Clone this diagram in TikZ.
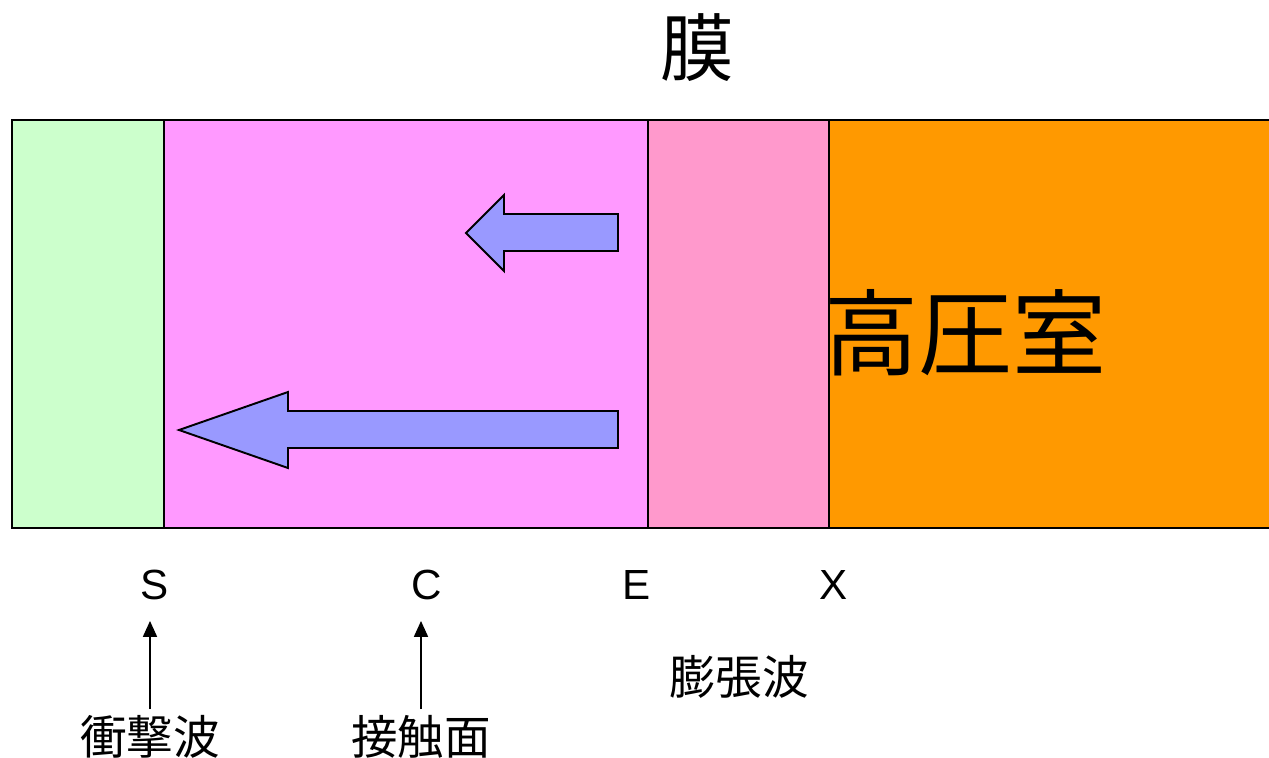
\documentclass[tikz,border=0pt]{standalone}
\usepackage{fontspec}
\setmainfont{Liberation Sans}
\newfontfamily\cjk{Noto Sans CJK JP}
\usetikzlibrary{arrows.meta}
\definecolor{cgreen}{HTML}{CCFFCC}
\definecolor{cmag}{HTML}{FF99FF}
\definecolor{cpink}{HTML}{FF99CC}
\definecolor{corange}{HTML}{FF9900}
\definecolor{carrow}{HTML}{9999FF}
\begin{document}
\begin{tikzpicture}[x=0.02cm,y=-0.02cm,
  region/.style={draw=black,line width=1.1pt},
  fatarrow/.style={draw=black,fill=carrow,line width=1.1pt,line join=miter},
  letter/.style={inner sep=0pt,font=\fontsize{24}{24}\selectfont},
  jlabel/.style={inner sep=0pt,font=\cjk\fontsize{26.5}{27}\selectfont},
  pointer/.style={-{Triangle[length=9pt,width=8pt]},line width=0.8pt}]
\useasboundingbox (0,0) rectangle (1269,758);
\fill[white] (0,0) rectangle (1269,758);
% regions
\filldraw[region,fill=cgreen] (12,120) rectangle (164,528);
\filldraw[region,fill=cmag] (164,120) rectangle (648,528);
\filldraw[region,fill=cpink] (648,120) rectangle (829,528);
\filldraw[region,fill=corange] (829,120) rectangle (1280,528);
% arrows
\filldraw[fatarrow] (618,214) -- (504,214) -- (504,195) -- (466,233) -- (504,271) -- (504,251) -- (618,251) -- cycle;
\filldraw[fatarrow] (618,411) -- (288,411) -- (288,392) -- (179,430) -- (288,468) -- (288,448) -- (618,448) -- cycle;
% titles
\node[inner sep=0pt,font=\cjk\fontsize{42}{42}\selectfont] (maku) at (697,48) {膜};
\node[inner sep=0pt,anchor=west,font=\cjk\fontsize{53.5}{54}\selectfont] (hp) at (824,333) {高圧室};
% letters
\node[letter] (S) at (155,585) {S};
\node[letter] (C) at (427,585) {C};
\node[letter] (E) at (637,585) {E};
\node[letter] (X) at (834,585) {X};
% Japanese labels
\node[jlabel] (bocho) at (739,677) {膨張波};
\node[jlabel] (shock) at (150,737) {衝撃波};
\node[jlabel] (contact) at (421,737) {接触面};
\coordinate (sTop) at (150,621);
\coordinate (cTop) at (421,621);
\coordinate (sBot) at (150,709);
\coordinate (cBot) at (421,709);
\draw[pointer] (sBot) -- (sTop);
\draw[pointer] (cBot) -- (cTop);
\end{tikzpicture}
\end{document}
